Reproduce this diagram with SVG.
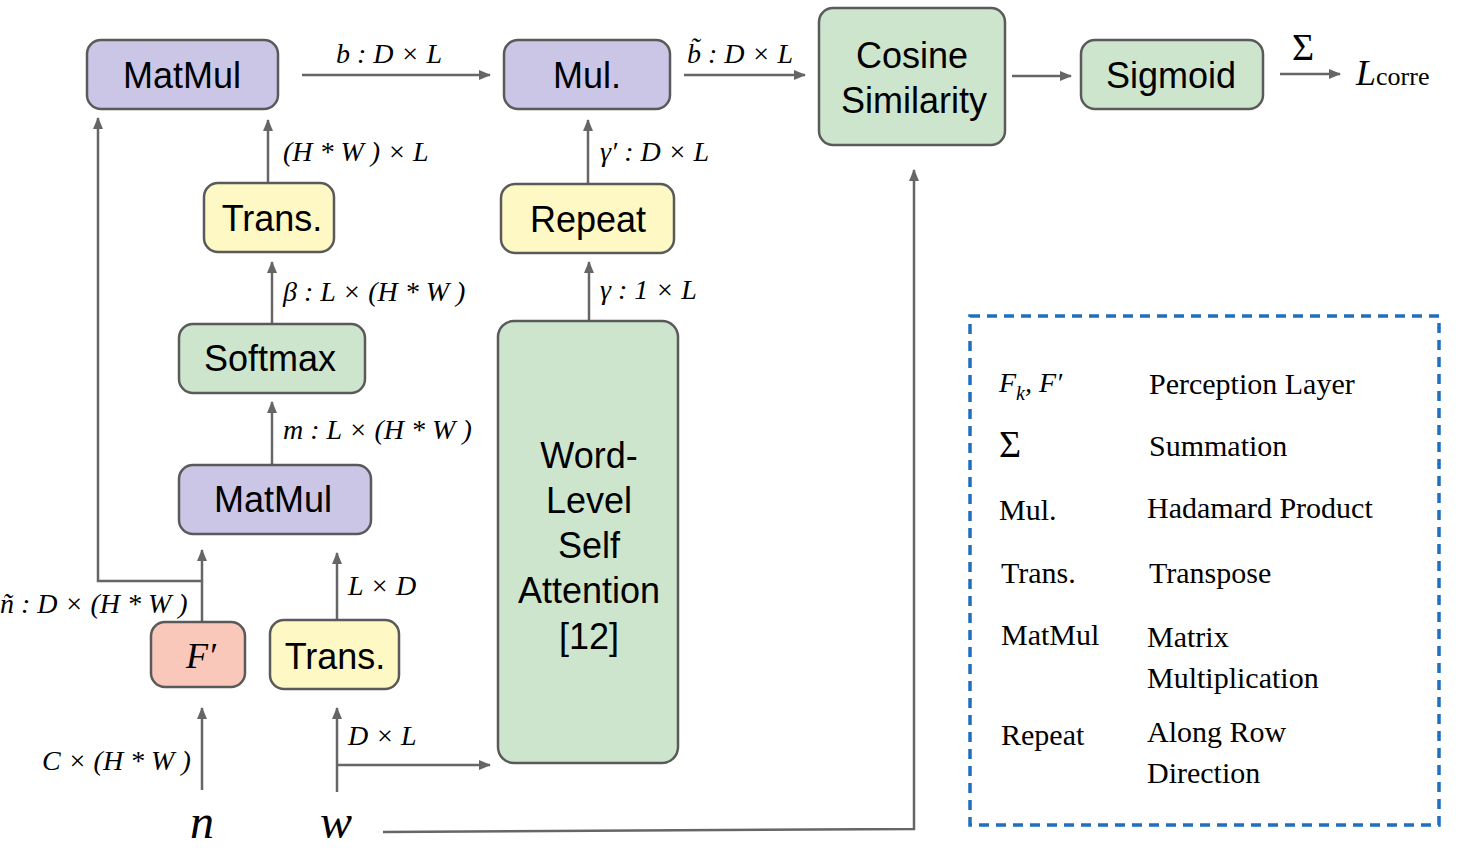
<svg xmlns="http://www.w3.org/2000/svg" width="1472" height="858" viewBox="0 0 1472 858">
<style>
.b{stroke:#5a5a5a;stroke-width:2.5}
.p{fill:#cbc5e6}.g{fill:#cde5cc}.y{fill:#fef8c4}.s{fill:#f9c8bb}
.t{font-family:"Liberation Sans",Arial,sans-serif;font-size:36px;text-anchor:middle;fill:#000}
.m{font-family:"Liberation Serif","Times New Roman",serif;font-style:italic;font-size:28px;fill:#000}
.l{font-family:"Liberation Serif","Times New Roman",serif;font-size:30px;fill:#000}
.c{fill:none;stroke:#666;stroke-width:2.5}
</style>
<defs><marker id="a" markerWidth="12" markerHeight="10" refX="11" refY="5" orient="auto" markerUnits="userSpaceOnUse"><path d="M0,0L12,5L0,10z" fill="#666"/></marker></defs>
<g id="connectors">
<path class="c" d="M302,75H490" marker-end="url(#a)"/>
<path class="c" d="M684,75H805" marker-end="url(#a)"/>
<path class="c" d="M1012,76H1071" marker-end="url(#a)"/>
<path class="c" d="M1280,74H1340" marker-end="url(#a)"/>
<path class="c" d="M268,183V120" marker-end="url(#a)"/>
<path class="c" d="M272,324V262" marker-end="url(#a)"/>
<path class="c" d="M272,465V402" marker-end="url(#a)"/>
<path class="c" d="M202,622V550" marker-end="url(#a)"/>
<path class="c" d="M202,581H98V118" marker-end="url(#a)"/>
<path class="c" d="M337,620V553" marker-end="url(#a)"/>
<path class="c" d="M202,790V708" marker-end="url(#a)"/>
<path class="c" d="M337,792V708" marker-end="url(#a)"/>
<path class="c" d="M337,765H490" marker-end="url(#a)"/>
<path class="c" d="M383,832L914,829V170" marker-end="url(#a)"/>
<path class="c" d="M588,184V120" marker-end="url(#a)"/>
<path class="c" d="M589,321V262" marker-end="url(#a)"/>
</g>
<g id="labels">
<text class="m" x="336" y="63">b : D × L</text>
<text class="m" x="687" y="63">b̃ : D × L</text>
<text class="l" x="1292" y="60" style="font-size:38px">Σ</text>
<text class="m" x="1356" y="85" style="font-size:36px">L<tspan font-style="normal" font-size="26px">corre</tspan></text>
<text class="m" x="283" y="161">(H * W ) × L</text>
<text class="m" x="283" y="301">β : L × (H * W )</text>
<text class="m" x="283" y="439">m : L × (H * W )</text>
<text class="m" x="0" y="613">ñ : D × (H * W )</text>
<text class="m" x="348" y="595">L × D</text>
<text class="m" x="42" y="770">C × (H * W )</text>
<text class="m" x="348" y="745">D × L</text>
<text class="m" x="600" y="161">γ′ : D × L</text>
<text class="m" x="600" y="299">γ : 1 × L</text>
<text class="m" x="190" y="838" style="font-size:48px">n</text>
<text class="m" x="320" y="838" style="font-size:48px">w</text>
</g>
<g id="matmul1"><rect class="b p" x="87" y="40" width="191" height="69" rx="14"/><text class="t" x="182" y="88">MatMul</text></g>
<g id="mul"><rect class="b p" x="504" y="40" width="166" height="69" rx="14"/><text class="t" x="587" y="88">Mul.</text></g>
<g id="cosine"><rect class="b g" x="819" y="8" width="186" height="137" rx="14"/><text class="t" x="912" y="68">Cosine</text><text class="t" x="914" y="113">Similarity</text></g>
<g id="sigmoid"><rect class="b g" x="1081" y="40" width="182" height="69" rx="14"/><text class="t" x="1171" y="88">Sigmoid</text></g>
<g id="trans1"><rect class="b y" x="204" y="183" width="130" height="69" rx="14"/><text class="t" x="272" y="231">Trans.</text></g>
<g id="repeat"><rect class="b y" x="501" y="184" width="173" height="69" rx="14"/><text class="t" x="588" y="232">Repeat</text></g>
<g id="softmax"><rect class="b g" x="179" y="324" width="186" height="69" rx="14"/><text class="t" x="270" y="371">Softmax</text></g>
<g id="matmul2"><rect class="b p" x="179" y="465" width="192" height="69" rx="14"/><text class="t" x="273" y="512">MatMul</text></g>
<g id="wordattn"><rect class="b g" x="498" y="321" width="180" height="442" rx="16"/>
<text class="t" x="589" y="468">Word-</text><text class="t" x="589" y="513">Level</text><text class="t" x="589" y="558">Self</text><text class="t" x="589" y="603">Attention</text><text class="t" x="589" y="649">[12]</text></g>
<g id="fprime"><rect class="b s" x="151" y="622" width="94" height="65" rx="14"/><text class="m" x="186" y="668" style="font-size:36px">F′</text></g>
<g id="trans2"><rect class="b y" x="270" y="620" width="129" height="69" rx="14"/><text class="t" x="335" y="669">Trans.</text></g>
<g id="legend">
<rect x="970" y="316" width="469" height="509" fill="none" stroke="#1f6fbf" stroke-width="3.5" stroke-dasharray="10,7"/>
<text class="m" x="999" y="392">F<tspan font-size="20px" dy="8">k</tspan><tspan dy="-8">, F′</tspan></text>
<text class="l" x="1149" y="394">Perception Layer</text>
<text class="l" x="999" y="457" style="font-size:38px">Σ</text>
<text class="l" x="1149" y="456">Summation</text>
<text class="l" x="999" y="520">Mul.</text>
<text class="l" x="1147" y="518">Hadamard Product</text>
<text class="l" x="1001" y="583">Trans.</text>
<text class="l" x="1149" y="583">Transpose</text>
<text class="l" x="1001" y="645">MatMul</text>
<text class="l" x="1147" y="647">Matrix</text>
<text class="l" x="1147" y="688">Multiplication</text>
<text class="l" x="1001" y="745">Repeat</text>
<text class="l" x="1147" y="742">Along Row</text>
<text class="l" x="1147" y="783">Direction</text>
</g>
</svg>
